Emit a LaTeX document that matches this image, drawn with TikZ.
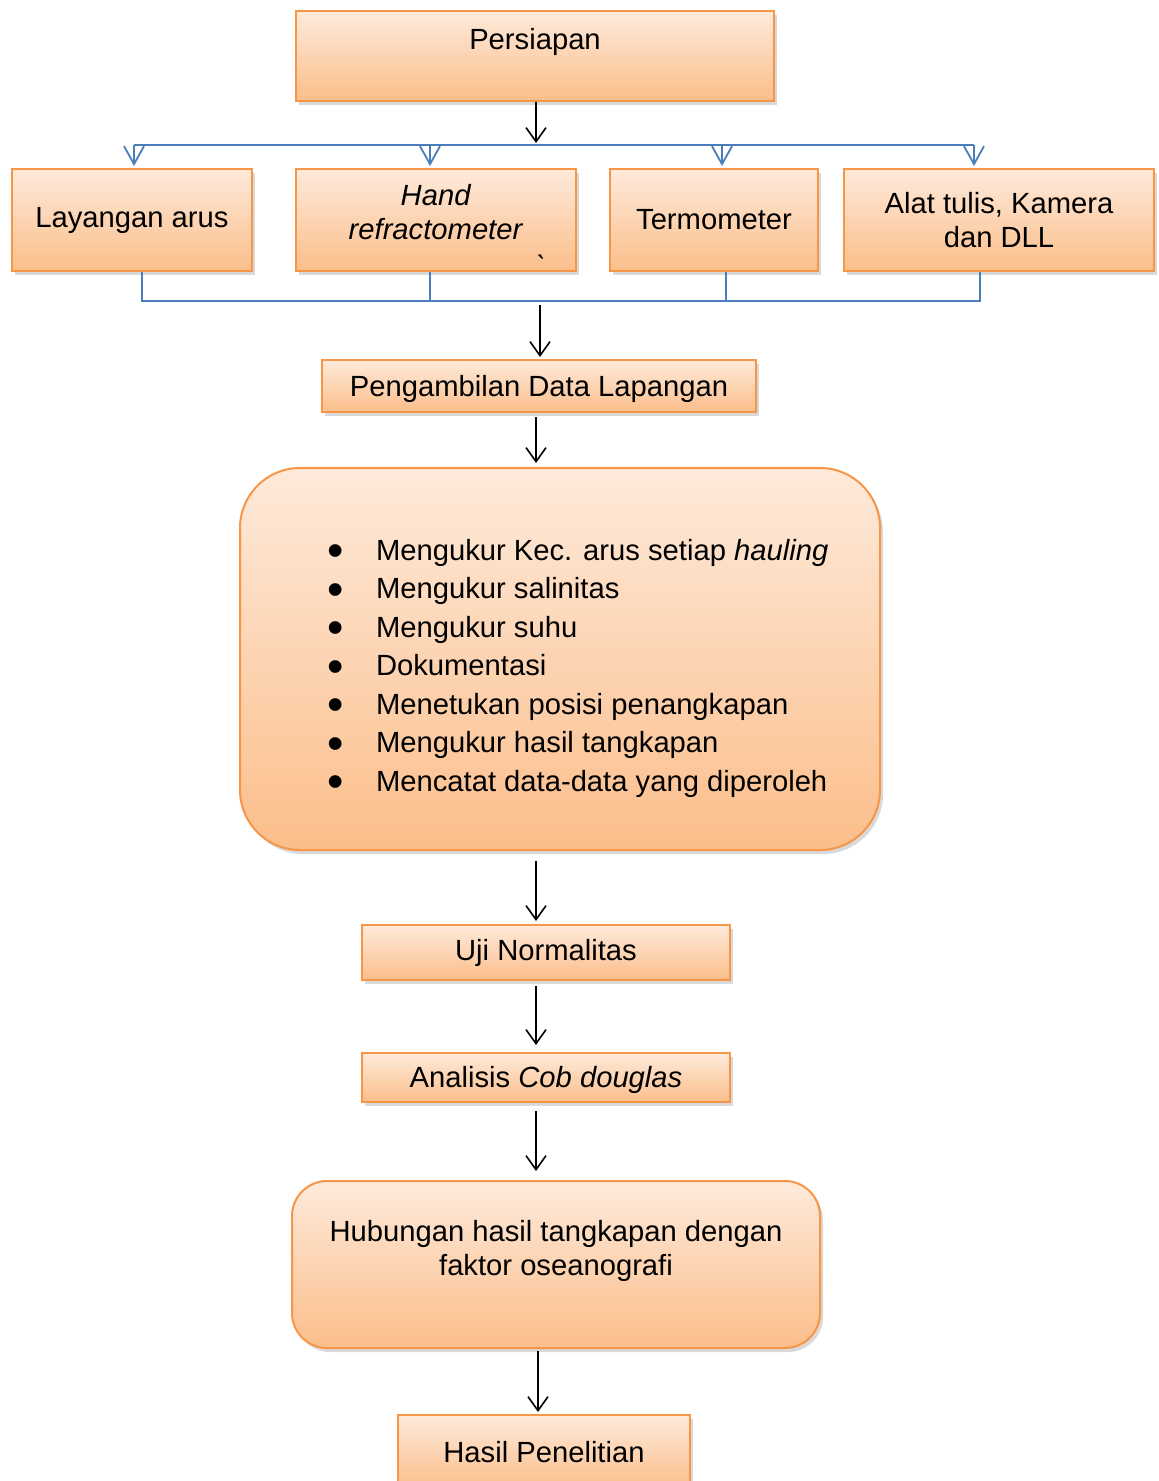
\documentclass[tikz,border=0pt]{standalone}
\usepackage{fontspec}
\setmainfont{Liberation Sans}
\usetikzlibrary{arrows.meta,shadows}
\definecolor{garis}{HTML}{F79646}
\definecolor{atas}{HTML}{FEEADB}
\definecolor{bawah}{HTML}{FBBE8A}
\definecolor{biru}{HTML}{4A7EBB}
\newcommand{\titik}{\smash{\raisebox{-3.2pt}{\scalebox{1.6}{•}}}\hspace{16pt}}
\begin{document}
\begin{tikzpicture}
    [x=0.5pt, y=-0.5pt,
    kotak/.style = {draw=garis, line width=1pt,
                    top color=atas, bottom color=bawah,
                    drop shadow={shadow xshift=1.5pt, shadow yshift=-2pt, opacity=0.3},
                    inner sep=2pt, align=center,
                    font=\fontsize{14.6}{16.75}\selectfont},
    panah/.style = {-{Straight Barb[length=7pt,width=10pt]}, line width=0.8pt},
    jalur/.style = {draw=biru, line width=0.9pt},
    panahbiru/.style = {jalur, -{Straight Barb[length=9pt,width=10pt]}}]
    \useasboundingbox (0,0) rectangle (1158,1481);
    \clip (0,0) rectangle (1158,1481);
    % Persiapan
    \node[kotak, minimum width=239pt, minimum height=45pt] (persiapan) at (535,56) {Persiapan\\\mbox{}};
    % Alat dan bahan
    \node[kotak, minimum width=120pt, minimum height=51pt] (layangan) at (132,220) {Layangan arus};
    \node[kotak, minimum width=140pt, minimum height=51pt] (hand) at (436,220)
        {\textit{Hand}\\\textit{refractometer}\rule[-8pt]{0pt}{8pt}};
    \node[font=\fontsize{14.6}{16.75}\selectfont\itshape, inner sep=0pt] (tanda) at (541,266) {\textasciigrave};
    \node[kotak, minimum width=104pt, minimum height=51pt] (termo) at (714,220) {Termometer};
    \node[kotak, minimum width=155pt, minimum height=51pt] (alat) at (999,220) {Alat tulis, Kamera\\dan DLL};
    % Lapangan
    \node[kotak, minimum width=217pt, minimum height=26pt] (ambil) at (539,386)
        {\rule{0pt}{14pt}Pengambilan Data Lapangan};
    \node[kotak, rounded corners=30pt, minimum width=320pt, minimum height=191pt] (ukur) at (560,659)
        {\def\arraystretch{1.15}%
        \begin{tabular}{@{\hspace{18pt}}l@{}}
        \rule{0pt}{22.5pt}\titik Mengukur Kec. arus setiap \textit{hauling}\\
        \titik Mengukur salinitas\\
        \titik Mengukur suhu\\
        \titik Dokumentasi\\
        \titik Menetukan posisi penangkapan\\
        \titik Mengukur hasil tangkapan\\
        \titik Mencatat data-data yang diperoleh
        \end{tabular}};
    % Analisis
    \node[kotak, minimum width=184pt, minimum height=27.5pt] (uji) at (546,952.5) {Uji Normalitas};
    \node[kotak, minimum width=184pt, minimum height=24.5pt] (analisis) at (546,1077.5)
        {\rule{0pt}{13pt}Analisis \textit{Cob douglas}};
    \node[kotak, rounded corners=17.5pt, minimum width=264pt, minimum height=83.5pt] (hubungan) at (556,1264.5)
        {Hubungan hasil tangkapan dengan\\faktor oseanografi\\\mbox{}};
    \node[kotak, minimum width=146pt, minimum height=37pt] (hasil) at (544,1452) {Hasil Penelitian};
    % Cabang biru atas
    \coordinate (t1) at (134,145);
    \coordinate (t2) at (430,145);
    \coordinate (t3) at (722,145);
    \coordinate (t4) at (974,145);
    \draw[jalur] (t1) -- (t4);
    \foreach \t/\k in {t1/layangan, t2/hand, t3/termo, t4/alat}
        \draw[panahbiru, shorten >=1pt] (\t) -- (\t |- \k.north);
    % Cabang biru bawah
    \coordinate (b1) at (142,301);
    \coordinate (b2) at (430,301);
    \coordinate (b3) at (726,301);
    \coordinate (b4) at (980,301);
    \draw[jalur] (b1 |- layangan.south) -- (b1) -- (b4) -- (b4 |- alat.south);
    \draw[jalur] (b2 |- hand.south) -- (b2);
    \draw[jalur] (b3 |- termo.south) -- (b3);
    % Panah hitam
    \coordinate (pisah) at (536,145);
    \draw[panah, shorten >=1pt] (persiapan.south -| pisah) -- (pisah);
    \coordinate (gabung) at (540,305);
    \draw[panah, shorten >=1pt] (gabung) -- (gabung |- ambil.north);
    \coordinate (tengah) at (536,0);
    \foreach \a/\b/\s/\e in {ambil/ukur/2/2, ukur/uji/5/1.5, uji/analisis/2.5/3.5, analisis/hubungan/4/4.5}
        \draw[panah, shorten <=\s pt, shorten >=\e pt] (\a.south -| tengah) -- (\b.north -| tengah);
    \coordinate (akhir) at (538,0);
    \draw[panah, shorten <=1pt, shorten >=1pt] (hubungan.south -| akhir) -- (hasil.north -| akhir);
\end{tikzpicture}
\end{document}
